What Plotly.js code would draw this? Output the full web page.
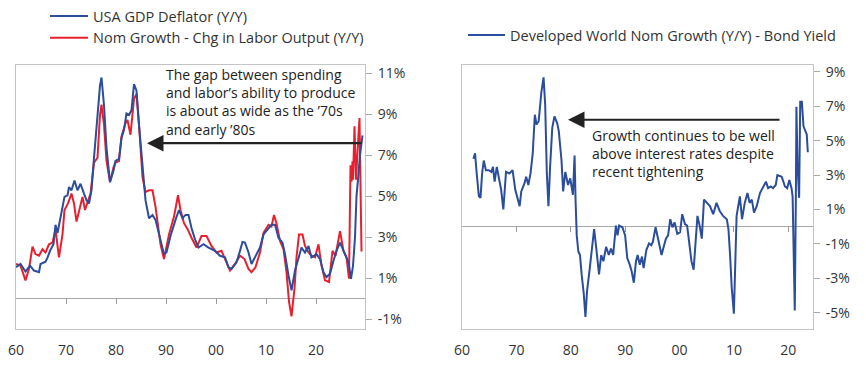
<!DOCTYPE html>
<html><head><meta charset="utf-8">
<script src="https://cdn.plot.ly/plotly-3.0.1.min.js"></script>
<style>html,body{margin:0;padding:0;background:#fff}#chart{width:866px;height:366px}</style>
</head><body><div id="chart"></div>
<script>
// ---------- Left panel data (x in chart-axis years) ----------
const deflatorX = [1960.0,1960.9,1961.9,1962.8,1963.6,1964.6,1964.9,1965.9,1966.3,1966.8,1967.5,1967.9,1968.3,1968.8,1969.3,1969.7,1970.3,1970.6,1971.1,1971.7,1972.3,1972.9,1973.6,1974.1,1974.6,1975.1,1975.6,1976.3,1976.8,1977.1,1977.6,1978.1,1978.8,1979.5,1979.9,1980.6,1981.1,1981.6,1982.1,1982.6,1983.1,1983.6,1984.1,1984.6,1985.3,1985.9,1986.6,1987.3,1987.9,1988.9,1989.6,1990.1,1990.9,1991.9,1992.6,1993.3,1993.9,1994.5,1995.1,1995.8,1996.5,1997.5,1998.5,1999.8,2000.8,2001.8,2002.5,2003.1,2004.1,2004.8,2005.3,2005.8,2006.5,2007.1,2008.1,2008.8,2009.5,2010.5,2011.1,2011.8,2012.5,2013.3,2013.8,2014.5,2015.1,2015.8,2016.5,2017.1,2017.8,2018.5,2019.1,2020.1,2020.8,2021.5,2022.1,2022.8,2023.5,2024.1,2024.8,2025.5,2026.1,2026.5,2027.0,2027.4,2027.8,2028.1,2028.4,2028.8,2029.3];
const deflatorY = [1.53,1.69,1.32,1.61,1.37,1.29,1.69,1.80,2.0,2.33,2.65,3.6,3.2,3.84,4.32,4.96,5.04,5.44,5.28,5.76,5.28,5.6,5.12,4.8,4.64,5.28,6.87,8.95,10.38,10.78,9.43,7.35,5.68,6.24,6.71,6.81,7.83,8.23,9.03,8.95,9.19,10.46,10.14,8.47,6.56,4.8,3.92,4.08,3.84,2.89,2.17,2.25,3.05,3.84,4.32,3.92,4.08,4.08,3.44,2.89,2.49,2.65,2.49,2.33,2.09,2.01,1.53,1.45,1.77,2.33,2.76,2.73,2.25,1.69,2.17,2.49,3.13,3.44,3.6,3.6,2.97,2.73,2.17,1.13,0.41,1.37,1.93,2.49,2.25,2.57,2.01,2.17,1.93,1.29,1.05,1.21,1.85,2.33,2.73,2.33,1.93,1.77,0.97,1.6,3.0,5.0,5.8,7.0,7.96];

const laborGapX = [1960.0,1960.9,1961.9,1962.6,1963.3,1963.9,1964.6,1965.3,1965.9,1966.6,1967.3,1967.9,1968.6,1969.3,1969.7,1970.4,1971.1,1971.6,1972.1,1972.8,1973.3,1973.8,1974.3,1974.9,1975.6,1976.3,1976.8,1977.1,1977.6,1978.1,1978.8,1979.5,1979.9,1980.6,1981.1,1981.9,1982.3,1982.9,1983.6,1984.1,1984.6,1985.3,1985.9,1986.6,1987.3,1987.9,1988.9,1989.6,1990.6,1991.6,1992.4,1992.9,1993.6,1994.3,1995.1,1996.1,1997.1,1998.1,1999.1,2000.1,2001.1,2001.8,2002.8,2003.8,2004.8,2005.7,2006.5,2007.1,2007.9,2008.8,2009.5,2010.5,2011.1,2011.6,2012.1,2012.8,2013.5,2014.1,2014.6,2015.1,2015.7,2016.1,2016.6,2017.3,2017.8,2018.5,2019.1,2019.8,2020.5,2021.1,2021.8,2022.6,2023.3,2023.9,2024.8,2025.5,2026.1,2026.6,2026.9,2027.1,2027.3,2027.4,2027.7,2028.0,2028.2,2028.5,2028.7,2028.9,2029.1];
const laborGapY = [1.69,1.61,0.89,1.45,2.54,2.17,2.09,2.41,2.25,2.65,2.73,3.37,2.01,3.13,4.32,4.64,5.12,4.64,3.76,4.48,4.96,4.32,4.64,5.12,6.63,6.87,8.95,9.46,8.47,6.71,5.68,6.4,6.63,6.71,7.91,8.55,8.71,7.99,9.74,9.98,8.47,5.92,5.2,5.28,5.28,4.48,2.65,1.93,3.13,4.0,5.04,4.32,3.68,3.4,2.97,2.49,3.05,3.05,2.57,2.25,2.33,1.93,1.37,1.69,2.09,1.93,1.45,1.29,1.53,2.25,3.21,3.6,3.52,4.08,3.68,2.81,2.41,1.29,-0.14,-0.86,0.49,2.01,3.13,3.13,2.57,2.25,2.09,2.01,2.65,1.61,0.89,0.81,2.33,2.09,3.29,2.33,2.01,0.97,6.5,5.7,6.7,5.8,8.4,5.8,7.0,8.0,8.8,5.0,2.3];

// ---------- Right panel data ----------
const worldX = [1962.1,1962.4,1962.7,1963.1,1963.4,1963.7,1964.0,1964.4,1964.9,1965.4,1965.7,1966.0,1966.4,1966.8,1967.2,1967.6,1968.1,1968.7,1969.3,1969.8,1970.3,1970.6,1970.9,1971.5,1971.8,1972.2,1972.6,1973.0,1973.4,1973.7,1974.1,1974.6,1975.0,1975.3,1975.6,1975.9,1976.2,1976.6,1977.0,1977.5,1977.8,1978.3,1978.6,1979.0,1979.5,1979.9,1980.4,1980.7,1980.9,1981.1,1981.4,1981.7,1982.0,1982.4,1982.7,1983.0,1983.5,1983.8,1984.3,1984.7,1985.2,1985.6,1986.0,1986.5,1987.0,1987.4,1987.8,1988.3,1988.6,1988.9,1989.5,1990.0,1990.4,1990.85,1991.2,1991.6,1992.0,1992.3,1992.7,1993.1,1993.4,1993.9,1994.4,1994.8,1995.1,1995.6,1996.1,1996.7,1997.0,1997.5,1997.9,1998.3,1998.7,1999.1,1999.6,2000.1,2000.5,2001.0,2001.4,2001.9,2002.2,2002.6,2003.0,2003.3,2003.7,2004.1,2004.5,2005.0,2005.6,2006.2,2006.8,2007.4,2008.0,2008.7,2009.0,2009.3,2009.6,2010.0,2010.3,2010.5,2011.1,2011.5,2012.0,2012.5,2012.9,2013.3,2013.7,2014.2,2014.8,2015.4,2015.9,2016.3,2016.8,2017.2,2017.7,2018.0,2018.8,2019.4,2019.8,2020.2,2020.6,2020.8,2021.0,2021.2,2021.4,2021.5,2021.7,2022.0,2022.2,2022.5,2022.8,2023.1,2023.4,2023.6];
const worldY = [3.95,4.27,3.10,1.77,1.68,3.10,3.85,3.29,3.29,3.19,3.48,2.62,3.48,2.81,2.15,1.01,3.19,3.10,3.29,2.15,1.58,1.2,2.05,2.53,2.90,2.43,3.10,4.23,6.51,5.94,6.13,7.83,8.68,7.07,3.10,1.2,3.48,5.75,6.41,6.03,5.56,3.85,2.05,3.19,2.43,2.81,1.86,4.14,1.39,-0.5,-1.45,-1.64,-2.77,-3.91,-5.24,-3.72,-2.4,-1.45,-0.13,-1.27,-2.77,-1.64,-2.0,-1.17,-1.64,-1.27,-1.64,0.07,-0.5,0.07,-0.03,-0.5,-1.83,-2.2,-2.59,-3.25,-2.0,-1.64,-2.21,-1.73,-2.4,-1.35,-0.97,-1.07,-0.88,-0.03,-0.69,-1.64,-1.27,-0.69,-0.5,0.44,-0.03,0.25,-0.41,-0.31,0.73,0.16,0.07,-1.27,-2.0,-2.49,-0.88,0.63,0.07,-0.69,1.58,1.39,1.2,0.73,1.39,0.92,0.63,0.44,-0.13,-1.64,-3.53,-5.05,-2.0,0.63,1.77,0.44,1.39,1.96,1.39,1.58,0.82,1.2,1.96,2.34,2.62,2.24,2.34,2.24,2.43,3.0,2.9,2.34,2.24,2.72,2.24,1.77,-2.0,-4.86,1.77,6.98,3.66,1.68,7.26,7.26,5.84,5.56,5.37,4.33];

// ---------- Labels ----------
const decadeYears = [1960,1970,1980,1990,2000,2010,2020];
const decadeLabels = ['60','70','80','90','00','10','20'];
const leftTicks = [-1,1,3,5,7,9,11];
const rightTicks = [-5,-3,-1,1,3,5,7,9];
const legendNames = ['USA GDP Deflator (Y/Y)','Nom Growth - Chg in Labor Output (Y/Y)','Developed World Nom Growth (Y/Y) - Bond Yield'];
const noteLeft = 'The gap between spending<br>and labor’s ability to produce<br>is about as wide as the ’70s<br>and early ’80s';
const noteRight = 'Growth continues to be well<br>above interest rates despite<br>recent tightening';

// ---------- Layout ----------
const W = 866, H = 366, T = 59, B = 37;
const PH = H - T - B;
const px = v => v / W;
const py = v => (H - B - v) / PH;
const FONT = 'Open Sans, sans-serif';
const TXT = '#333333';
const FRAME = '#c4c4c4';
const ZERO = '#a8a8a8';
const leftRange = [-1.48, 11.39];
const rightRange = [-5.94, 9.4];
const leftX = [1960, 2029.8];
const rightX = [1960, 2024.55];

const BLUE = '#2b4d9c', RED = '#e8202e';

const traces = [
  {x: laborGapX, y: laborGapY, type: 'scatter', mode: 'lines', name: legendNames[1],
   line: {color: RED, width: 2}, xaxis: 'x', yaxis: 'y', legend: 'legend'},
  {x: deflatorX, y: deflatorY, type: 'scatter', mode: 'lines', name: legendNames[0],
   line: {color: BLUE, width: 2}, xaxis: 'x', yaxis: 'y', legend: 'legend'},
  {x: worldX, y: worldY, type: 'scatter', mode: 'lines', name: legendNames[2],
   line: {color: BLUE, width: 2}, xaxis: 'x2', yaxis: 'y2', legend: 'legend2'}
];

function dataX(domain, range, yref) {
  return {domain, range, anchor: yref, showgrid: false, zeroline: false,
    showline: true, mirror: true, linecolor: FRAME, linewidth: 1,
    tickmode: 'array', tickvals: decadeYears, ticktext: decadeLabels,
    ticks: 'outside', ticklen: 8, tickcolor: 'rgba(0,0,0,0)',
    tickfont: {family: FONT, size: 14, color: TXT}, automargin: false};
}
function dataY(range, ticks, xref) {
  return {domain: [0, 1], range, anchor: xref, side: 'right', showgrid: false,
    zeroline: true, zerolinecolor: ZERO, zerolinewidth: 1,
    showline: true, mirror: true, linecolor: FRAME, linewidth: 1,
    tickmode: 'array', tickvals: ticks, ticktext: ticks.map(v => v + '%'),
    ticks: 'outside', ticklen: 6, tickcolor: ZERO, ticklabelstandoff: 3,
    tickfont: {family: FONT, size: 14, color: TXT}, automargin: false};
}
// axis sitting on the zero line: carries the small decade tick marks
function zeroTickAxis(range, yrange, over) {
  return {overlaying: over, anchor: 'free',
    position: (0 - yrange[0]) / (yrange[1] - yrange[0]) + 2 / PH,
    range, showgrid: false, zeroline: false, showline: false, side: 'bottom',
    tickmode: 'array', tickvals: decadeYears.slice(1), showticklabels: false,
    ticks: 'outside', ticklen: 6, tickcolor: '#9a9a9a', tickwidth: 1, automargin: false};
}

const annotations = [
  {xref: 'paper', yref: 'paper', x: px(164), y: py(97), xanchor: 'left', yanchor: 'middle',
   align: 'left', showarrow: false, text: noteLeft, font: {family: FONT, size: 14, color: '#222'}},
  {xref: 'paper', yref: 'paper', x: px(590), y: py(149), xanchor: 'left', yanchor: 'middle',
   align: 'left', showarrow: false, text: noteRight, font: {family: FONT, size: 14, color: '#222'}},
  {xref: 'paper', yref: 'paper', x: px(147), y: py(139), text: '', showarrow: true,
   ax: 216, ay: 0, arrowhead: 2, arrowsize: 1.5, arrowwidth: 2.2, arrowcolor: '#222', standoff: 0},
  {xref: 'paper', yref: 'paper', x: px(568), y: py(115), text: '', showarrow: true,
   ax: 213, ay: 0, arrowhead: 2, arrowsize: 1.5, arrowwidth: 2.2, arrowcolor: '#222', standoff: 0}
];

const layout = {
  width: W, height: H,
  margin: {l: 0, r: 0, t: T, b: B},
  paper_bgcolor: '#ffffff', plot_bgcolor: '#ffffff',
  font: {family: FONT, size: 14, color: TXT},
  xaxis: dataX([px(16), px(365)], leftX, 'y'),
  yaxis: dataY(leftRange, leftTicks, 'x'),
  xaxis2: dataX([px(462), px(813)], rightX, 'y2'),
  yaxis2: dataY(rightRange, rightTicks, 'x2'),
  xaxis3: zeroTickAxis(leftX, leftRange, 'x'),
  xaxis4: zeroTickAxis(rightX, rightRange, 'x2'),
  showlegend: true,
  legend: {x: px(45), y: py(-8), xanchor: 'left', yanchor: 'top', traceorder: 'reversed', itemwidth: 38,
    bgcolor: 'rgba(0,0,0,0)', font: {family: FONT, size: 14.5, color: TXT}, tracegroupgap: 0},
  legend2: {x: px(463), y: py(12), xanchor: 'left', yanchor: 'top', itemwidth: 37,
    bgcolor: 'rgba(0,0,0,0)', font: {family: FONT, size: 14.5, color: TXT}},
  annotations
};

// Invisible anchors so the zero-line tick axes are drawn
traces.push({x: [leftX[0]], y: [0], xaxis: 'x3', yaxis: 'y', mode: 'markers', marker: {opacity: 0}, hoverinfo: 'skip', showlegend: false});
traces.push({x: [rightX[0]], y: [0], xaxis: 'x4', yaxis: 'y2', mode: 'markers', marker: {opacity: 0}, hoverinfo: 'skip', showlegend: false});

Plotly.newPlot('chart', traces, layout, {staticPlot: true, displayModeBar: false});
</script>
</body></html>
